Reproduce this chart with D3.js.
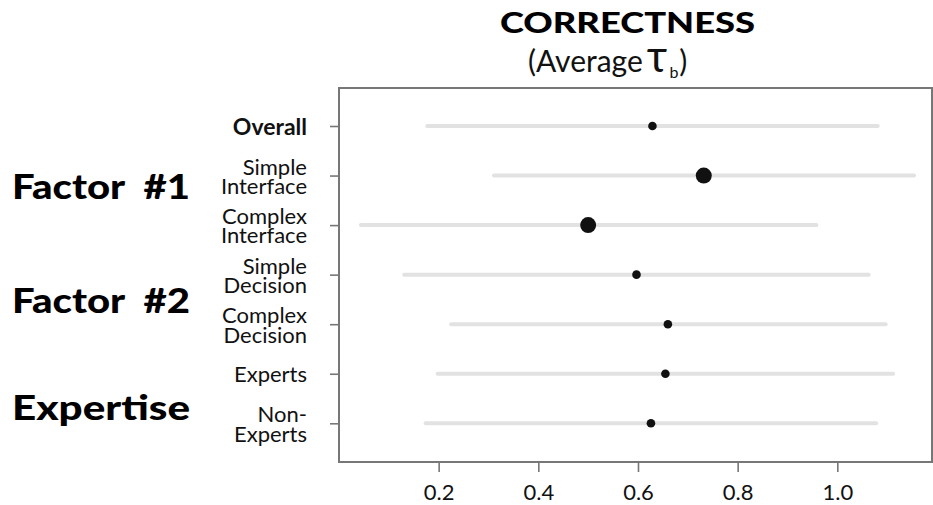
<!DOCTYPE html>
<html>
<head>
<meta charset="utf-8">
<script src="https://cdn.jsdelivr.net/npm/d3@7"></script>
<style>
  html, body { margin: 0; padding: 0; background: #fff; }
  svg { display: block; }
</style>
</head>
<body>
<svg id="chart" width="933" height="505"></svg>
<script>
// ---------- data ----------
const categories = ["Overall", "Simple Interface", "Complex Interface", "Simple Decision", "Complex Decision", "Experts", "Non-Experts"];
const categoryLines = [["Overall"], ["Simple", "Interface"], ["Complex", "Interface"], ["Simple", "Decision"], ["Complex", "Decision"], ["Experts"], ["Non-", "Experts"]];
const boldCategory = ["Overall"];
const means = [0.629, 0.732, 0.500, 0.597, 0.660, 0.655, 0.626];
const lows  = [0.177, 0.311, 0.044, 0.131, 0.225, 0.198, 0.174];
const highs = [1.081, 1.154, 0.958, 1.063, 1.097, 1.112, 1.078];
const emphasized = ["Simple Interface", "Complex Interface"];
const xTicks = [0.2, 0.4, 0.6, 0.8, 1.0];
const xTickLabels = ["0.2", "0.4", "0.6", "0.8", "1.0"];
const groupLabels = ["Factor  #1", "Factor  #2", "Expertise"];
const groupMembers = [["Simple Interface", "Complex Interface"], ["Simple Decision", "Complex Decision"], ["Experts", "Non-Experts"]];

// ---------- layout ----------
const svg = d3.select("#chart");
const box = { left: 339, top: 88, right: 932, bottom: 462 };
const x = d3.scaleLinear().domain([0, 1.19]).range([box.left, box.right]);
const y = d3.scalePoint().domain(categories).range([126, 423.3]);
const axisColor = "#777";
const labelFont = "'Gill Sans', Lato, 'Open Sans', sans-serif";
const heavyFont = "Futura, Lato, 'DejaVu Sans', sans-serif";
const groupBaselineOffsets = [-1.5, 14, 21.5];

// title
svg.append("text")
  .attr("x", 500).attr("y", 33)
  .attr("textLength", 255).attr("lengthAdjust", "spacingAndGlyphs")
  .style("font-family", heavyFont).style("font-weight", 900)
  .style("font-size", "29px").attr("fill", "#000")
  .text("CORRECTNESS");
const sub = svg.append("text")
  .attr("x", 528).attr("y", 72)
  .attr("text-anchor", "start")
  .style("font-family", labelFont).style("font-size", "30px").attr("fill", "#111");
sub.append("tspan").text("(Average");
sub.append("tspan").attr("dx", 4).style("font-size", "44px").text("τ");
sub.append("tspan").attr("dy", 6).attr("dx", 2).style("font-size", "16px").text("b");
sub.append("tspan").attr("dy", -6).attr("dx", 1).text(")");

// range lines
const rows = categories.map((c, i) => ({ c, mean: means[i], lo: lows[i], hi: highs[i] }));
svg.append("g").selectAll("line").data(rows).join("line")
  .attr("x1", d => x(d.lo)).attr("x2", d => x(d.hi))
  .attr("y1", d => y(d.c)).attr("y2", d => y(d.c))
  .attr("stroke", "#e2e2e2").attr("stroke-width", 4).attr("stroke-linecap", "round");

// dots
svg.append("g").selectAll("circle").data(rows).join("circle")
  .attr("cx", d => x(d.mean)).attr("cy", d => y(d.c))
  .attr("r", d => emphasized.includes(d.c) ? 8 : 4.3)
  .attr("fill", "#111");

// box
svg.append("rect")
  .attr("x", box.left).attr("y", box.top)
  .attr("width", box.right - box.left).attr("height", box.bottom - box.top)
  .attr("fill", "none").attr("stroke", axisColor).attr("stroke-width", 2);

// x axis
const xAxis = svg.append("g")
  .attr("transform", `translate(0,${box.bottom})`)
  .call(d3.axisBottom(x).tickValues(xTicks).tickFormat((d, i) => xTickLabels[i]).tickSize(10).tickPadding(12));
xAxis.select(".domain").remove();
xAxis.selectAll(".tick line").attr("stroke", axisColor).attr("stroke-width", 1.6);
xAxis.selectAll(".tick text")
  .style("font-family", labelFont).style("font-size", "22px").attr("fill", "#111");

// y axis
const yAxis = svg.append("g")
  .attr("transform", `translate(${box.left},0)`)
  .call(d3.axisLeft(y).tickSize(9).tickFormat(""));
yAxis.select(".domain").remove();
yAxis.selectAll(".tick line").attr("stroke", axisColor).attr("stroke-width", 1.6);
yAxis.selectAll(".tick").each(function (d, i) {
  const lines = categoryLines[i];
  const isBold = boldCategory.includes(d);
  const t = d3.select(this).append("text")
    .attr("text-anchor", "end").attr("fill", "#111")
    .style("font-family", labelFont)
    .style("font-size", isBold ? "23px" : "22px")
    .style("font-weight", isBold ? 700 : 400);
  const lh = 19.3;
  const startDy = lines.length === 1 ? 8 : -1.5;
  lines.forEach((ln, j) => {
    t.append("tspan").attr("x", -32).attr("y", startDy + j * lh).text(ln);
  });
});

// group labels
svg.append("g").selectAll("text").data(groupLabels).join("text")
  .attr("x", 12)
  .attr("y", (d, i) => d3.mean(groupMembers[i], m => y(m)) + groupBaselineOffsets[i])
  .attr("textLength", 178).attr("lengthAdjust", "spacingAndGlyphs")
  .style("font-family", heavyFont).style("font-weight", 900)
  .style("font-size", "35px").style("white-space", "pre").attr("fill", "#000")
  .text(d => d);
</script>
</body>
</html>
